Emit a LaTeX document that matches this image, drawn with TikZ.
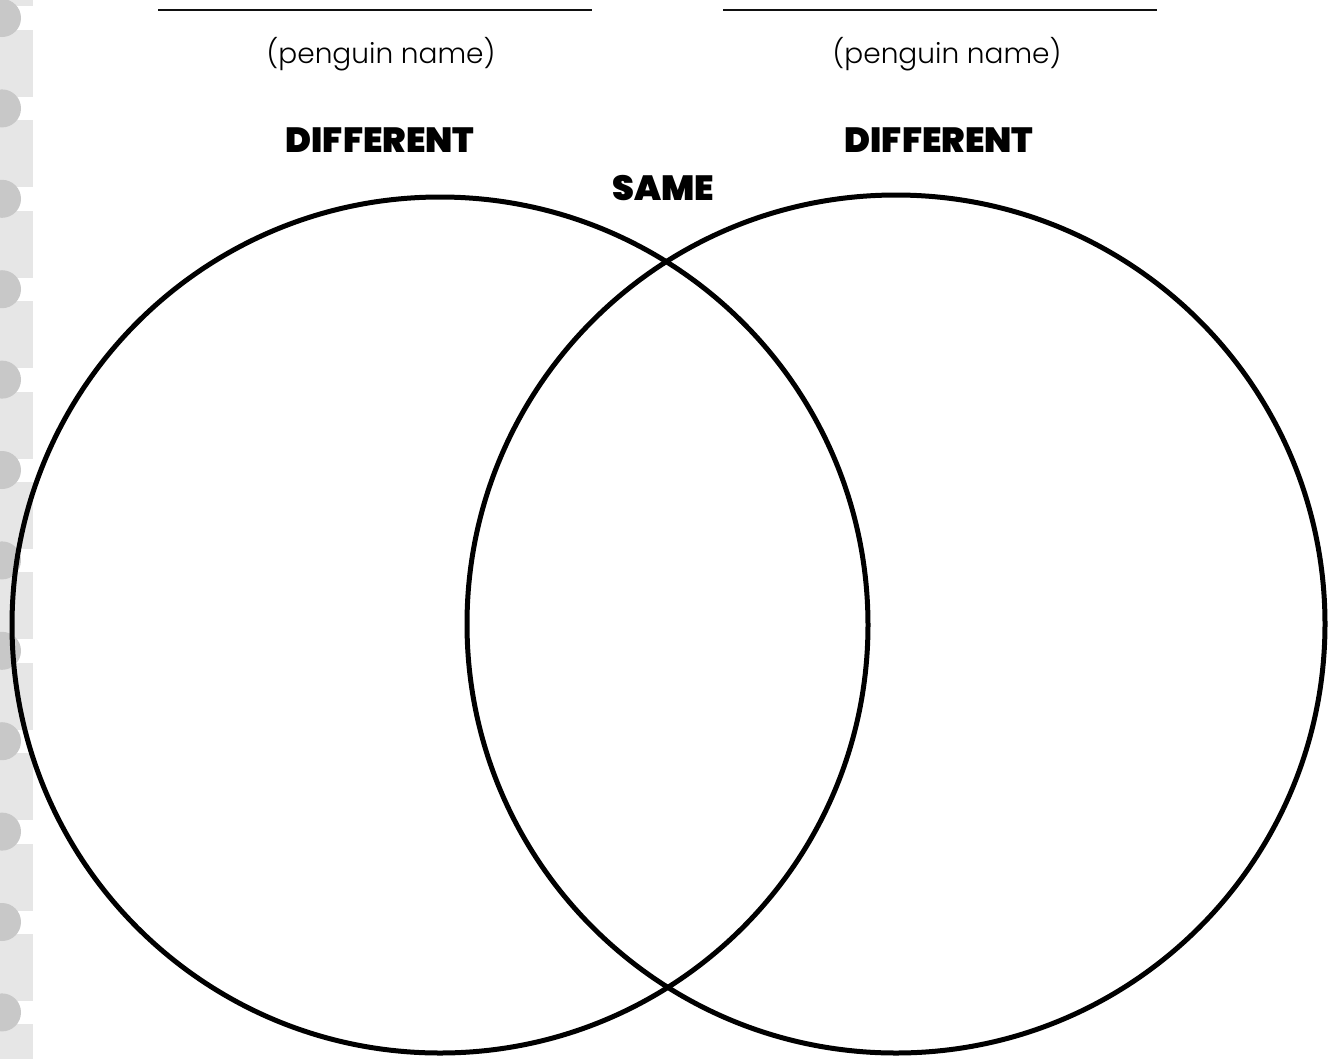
\documentclass[tikz,border=0pt]{standalone}
\usepackage{fontspec}
\usepackage{tikz}
\usepackage{xcolor}
\usetikzlibrary{positioning,calc}
\newfontfamily\namefont{Poppins Light}
\newfontfamily\headfont{Poppins Black}
\definecolor{stripgray}{HTML}{E6E6E6}
\definecolor{holegray}{HTML}{C8C8C8}
\definecolor{inkblack}{HTML}{111111}

\begin{document}
\begin{tikzpicture}[x=1pt,y=-1pt,
  venn/.style={draw=black,line width=5pt},
  nameline/.style={draw=inkblack,line width=1.3pt},
  namelbl/.style={anchor=base,inner sep=0pt,font=\namefont\fontsize{28}{30}\selectfont},
  headlbl/.style={anchor=base,inner sep=0pt,font=\headfont\fontsize{35}{37}\selectfont}]
\fill[white] (0,0) rectangle (1330,1058);
\useasboundingbox (0,0) rectangle (1330,1058);
% binder strip
\fill[stripgray] (0,0) rectangle (33,6);
\foreach \k in {0,...,11} {
  \fill[stripgray] (0,18+90.4*\k+12) rectangle (33,18+90.4*\k+79);
}
\foreach \k in {0,...,11} {
  \fill[holegray] (2,18+90.4*\k) circle[radius=19];
}
% name lines
\coordinate (lineLa) at (158,10);
\coordinate (lineLb) at (592,10);
\coordinate (lineRa) at (723,10);
\coordinate (lineRb) at (1157,10);
\draw[nameline] (lineLa) -- (lineLb);
\draw[nameline] (lineRa) -- (lineRb);
\node[namelbl] (nameL) at (381,63) {(penguin name)};
\node[namelbl] (nameR) at (947,63) {(penguin name)};
% headings
\node[headlbl] (diffL) at (380,152) {DIFFERENT};
\node[headlbl] (diffR) at (939,152) {DIFFERENT};
\node[headlbl] (same) at (663,200) {SAME};
% venn circles
\coordinate (cL) at (440,625);
\coordinate (cR) at (896,624);
\draw[venn] (cL) circle[radius=428];
\draw[venn] (cR) circle[radius=429];
\end{tikzpicture}
\end{document}
